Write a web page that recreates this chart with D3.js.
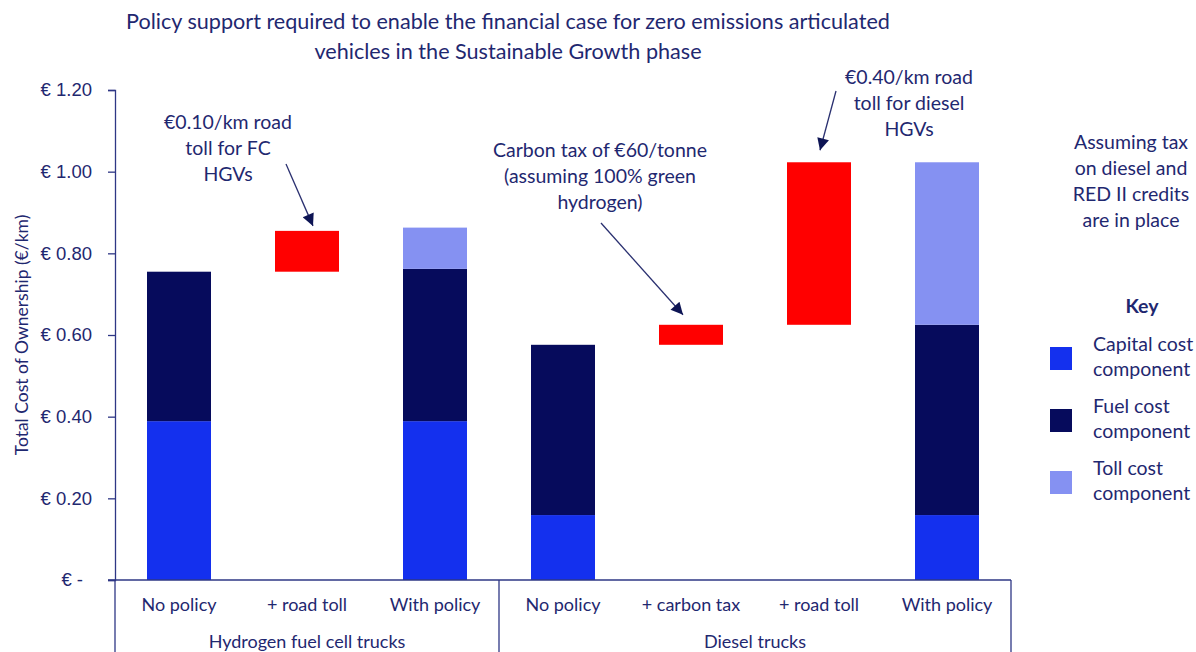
<!DOCTYPE html>
<html>
<head>
<meta charset="utf-8">
<script src="https://cdn.jsdelivr.net/npm/d3@7"></script>
<style>
  body { margin: 0; background: #fff; }
  svg { display: block; font-family: Lato, "Open Sans", sans-serif; }
</style>
</head>
<body>
<svg id="chart" width="1196" height="652"></svg>
<script>
const width = 1196;
const height = 652;

// data
const categories = ["No policy", "+ road toll", "With policy", "No policy", "+ carbon tax", "+ road toll", "With policy"];
const groups = ["Hydrogen fuel cell trucks", "Diesel trucks"];
const groupSizes = [3, 4];
const capital = [0.389, 0, 0.389, 0.159, 0, 0, 0.159];
const fuel = [0.366, 0, 0.373, 0.417, 0, 0, 0.466];
const toll = [0, 0, 0.101, 0, 0, 0, 0.398];
const policyBase = [0, 0.755, 0, 0, 0.576, 0.625, 0];
const policyStep = [0, 0.100, 0, 0, 0.049, 0.398, 0];
const yTicks = [0, 0.2, 0.4, 0.6, 0.8, 1.0, 1.2];
const keyItems = [
    { name: "capital", label: ["Capital cost", "component"] },
    { name: "fuel", label: ["Fuel cost", "component"] },
    { name: "toll", label: ["Toll cost", "component"] }
];

const color = { capital: "#1430ee", fuel: "#060b5c", toll: "#8591f2", policy: "#ff0000" };
const textColor = "#1f2870";
const lineColor = "#2e3785";

const margin = { top: 90, right: 185, bottom: 72, left: 115 };

const svg = d3.select("#chart");

const x = d3.scaleBand()
    .domain(categories.map((d, i) => i))
    .range([margin.left, width - margin.right])
    .paddingInner(0.5)
    .paddingOuter(0.25);

const y = d3.scaleLinear()
    .domain([0, 1.2])
    .range([height - margin.bottom, margin.top]);

// stacked segments
const segments = [];
categories.forEach((c, i) => {
    let base = 0;
    [["capital", capital[i]], ["fuel", fuel[i]], ["toll", toll[i]]].forEach(([k, v]) => {
        if (v > 0) segments.push({ i, key: k, y0: base, y1: base + v });
        base += v;
    });
    if (policyStep[i] > 0) segments.push({ i, key: "policy", y0: policyBase[i], y1: policyBase[i] + policyStep[i] });
});

svg.append("g")
    .selectAll("rect")
    .data(segments)
    .join("rect")
    .attr("x", d => x(d.i))
    .attr("width", x.bandwidth())
    .attr("y", d => y(d.y1))
    .attr("height", d => y(d.y0) - y(d.y1))
    .attr("fill", d => color[d.key]);

// y axis
const yAxis = svg.append("g")
    .attr("transform", `translate(${margin.left},0)`)
    .call(d3.axisLeft(y)
        .tickValues(yTicks)
        .tickSize(7)
        .tickPadding(16)
        .tickFormat(d => d === 0 ? "€ -" : "€ " + d3.format(".2f")(d)));
yAxis.select(".domain").attr("stroke", lineColor).attr("stroke-width", 1.3);
yAxis.selectAll(".tick line").attr("stroke", lineColor).attr("stroke-width", 1.3);
yAxis.selectAll(".tick text")
    .attr("fill", textColor)
    .attr("dx", d => d === 0 ? -9 : 0)
    .style("font-size", "18.5px");

svg.append("text")
    .attr("transform", `translate(28,${(y(0) + y(1.2)) / 2}) rotate(-90)`)
    .attr("text-anchor", "middle")
    .attr("fill", textColor)
    .style("font-size", "17.5px")
    .text("Total Cost of Ownership (€/km)");

// category axis
const x0 = margin.left;
const x1 = width - margin.right;
const yBase = y(0);
svg.append("line")
    .attr("x1", x0 - 7).attr("x2", x1)
    .attr("y1", yBase).attr("y2", yBase)
    .attr("stroke", lineColor).attr("stroke-width", 1.3);

svg.append("g")
    .selectAll("text")
    .data(categories)
    .join("text")
    .attr("x", (d, i) => x(i) + x.bandwidth() / 2)
    .attr("y", yBase + 31)
    .attr("text-anchor", "middle")
    .attr("fill", textColor)
    .style("font-size", "18px")
    .text(d => d);

// group separators and labels
const step = x.step();
let start = 0;
const bounds = [x0];
groups.forEach((g, gi) => {
    const end = start + groupSizes[gi];
    const gx0 = x0 + start * step;
    const gx1 = x0 + end * step;
    bounds.push(gx1);
    svg.append("text")
        .attr("x", (gx0 + gx1) / 2)
        .attr("y", yBase + 68)
        .attr("text-anchor", "middle")
        .attr("fill", textColor)
        .style("font-size", "18px")
        .text(g);
    start = end;
});
svg.append("g")
    .selectAll("line")
    .data(bounds)
    .join("line")
    .attr("x1", d => d).attr("x2", d => d)
    .attr("y1", yBase).attr("y2", height)
    .attr("stroke", lineColor).attr("stroke-width", 1.3);

// title
const title = svg.append("text")
    .attr("text-anchor", "middle")
    .attr("fill", textColor)
    .style("font-size", "21.6px");
["Policy support required to enable the financial case for zero emissions articulated",
 "vehicles in the Sustainable Growth phase"].forEach((t, i) => {
    title.append("tspan").attr("x", 508).attr("y", 29 + i * 30).text(t);
});

// annotations
svg.append("defs").append("marker")
    .attr("id", "arrowhead")
    .attr("viewBox", "0 -5 10 10")
    .attr("refX", 10)
    .attr("refY", 0)
    .attr("orient", "auto")
    .attr("markerUnits", "userSpaceOnUse")
    .attr("markerWidth", 15)
    .attr("markerHeight", 12)
    .append("path")
    .attr("d", "M0,-5L10,0L0,5Z")
    .attr("fill", "#0d1454");

function multiline(lines, cx, cy, lh, size) {
    const t = svg.append("text")
        .attr("text-anchor", "middle")
        .attr("fill", textColor)
        .style("font-size", size + "px");
    lines.forEach((l, i) => t.append("tspan").attr("x", cx).attr("y", cy + i * lh).text(l));
}

function arrow(xs, ys, xe, ye) {
    svg.append("line")
        .attr("x1", xs).attr("y1", ys)
        .attr("x2", xe).attr("y2", ye)
        .attr("stroke", "#2a3070")
        .attr("stroke-width", 1.3)
        .attr("marker-end", "url(#arrowhead)");
}

const cx = i => x(i) + x.bandwidth() / 2;

multiline(["€0.10/km road", "toll for FC", "HGVs"], 228, 129, 26, 19.5);
arrow(286, 164, cx(1) + 6, y(policyBase[1] + policyStep[1]) - 5);

multiline(["Carbon tax of €60/tonne", "(assuming 100% green", "hydrogen)"], 600, 157, 26, 19.5);
arrow(601, 223, cx(4) - 8, y(policyBase[4] + policyStep[4]) - 10);

multiline(["€0.40/km road", "toll for diesel", "HGVs"], 909, 84, 26, 19.5);
arrow(836, 91, cx(5) + 1, y(policyBase[5] + policyStep[5]) - 12);

multiline(["Assuming tax", "on diesel and", "RED II credits", "are in place"], 1131, 149, 26, 19.5);

// key
svg.append("text")
    .attr("x", 1142)
    .attr("y", 313)
    .attr("text-anchor", "middle")
    .attr("fill", textColor)
    .style("font-size", "19.5px")
    .style("font-weight", "bold")
    .text("Key");

const key = svg.append("g")
    .selectAll("g")
    .data(keyItems)
    .join("g")
    .attr("transform", (d, i) => `translate(1050,${347 + i * 62})`);
key.append("rect")
    .attr("width", 22)
    .attr("height", 23)
    .attr("fill", d => color[d.name]);
key.append("text")
    .attr("fill", textColor)
    .style("font-size", "19.5px")
    .selectAll("tspan")
    .data(d => d.label)
    .join("tspan")
    .attr("x", 43)
    .attr("y", (d, i) => i * 25 + 4)
    .text(d => d);
</script>
</body>
</html>
